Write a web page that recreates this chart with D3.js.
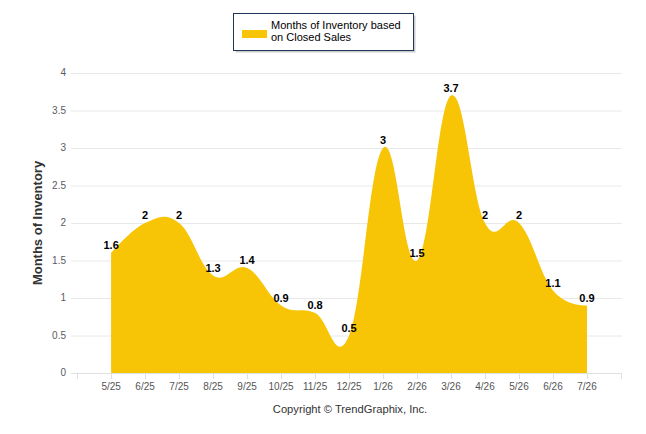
<!DOCTYPE html>
<html>
<head>
<meta charset="utf-8">
<script src="https://cdn.jsdelivr.net/npm/d3@7"></script>
<style>
  body { margin: 0; background: #fff; }
  text { font-family: "Liberation Sans", Arial, sans-serif; }
</style>
</head>
<body>
<div id="chart"></div>
<script>
var months = ["5/25", "6/25", "7/25", "8/25", "9/25", "10/25", "11/25", "12/25",
              "1/26", "2/26", "3/26", "4/26", "5/26", "6/26", "7/26"];
var inventory = [1.6, 2, 2, 1.3, 1.4, 0.9, 0.8, 0.5, 3, 1.5, 3.7, 2, 2, 1.1, 0.9];
var yTicks = [0, 0.5, 1, 1.5, 2, 2.5, 3, 3.5, 4];

var width = 646, height = 434;
var plotLeft = 71, plotRight = 622, plotTop = 73, plotBottom = 373;
var fill = "#F8C406";

var svg = d3.select("#chart")
    .append("svg")
    .attr("width", width)
    .attr("height", height);

// category index -> pixel, plot has some padding either side
var x = d3.scaleLinear().domain([-1.18, 15.03]).range([plotLeft, plotRight]);
var y = d3.scaleLinear().domain([0, 4]).range([plotBottom, plotTop]);

// grid lines
svg.selectAll(".grid")
    .data(yTicks.slice(1))
    .enter().append("line")
    .attr("x1", plotLeft).attr("x2", plotRight)
    .attr("y1", function(d) { return y(d) + 0.5; })
    .attr("y2", function(d) { return y(d) + 0.5; })
    .attr("stroke", "#e8e8e8")
    .attr("stroke-width", 1);

// area (spline like highcharts, smoothing 1.5 == cardinal tension -0.2)
var area = d3.area()
    .x(function(d, i) { return x(i); })
    .y0(y(0))
    .y1(function(d) { return y(d); })
    .curve(d3.curveCardinal.tension(-0.2));

svg.append("path")
    .datum(inventory)
    .attr("d", area)
    .attr("fill", fill);

// x axis
svg.append("line")
    .attr("x1", plotLeft).attr("x2", plotRight)
    .attr("y1", plotBottom + 0.5).attr("y2", plotBottom + 0.5)
    .attr("stroke", "#e0e0e0");

var tickIdx = d3.range(-1, 16);
svg.selectAll(".xtick")
    .data(tickIdx)
    .enter().append("line")
    .attr("x1", function(d) { return Math.round(x(d)) + 0.5; })
    .attr("x2", function(d) { return Math.round(x(d)) + 0.5; })
    .attr("y1", plotBottom).attr("y2", plotBottom + 6)
    .attr("stroke", "#e0e0e0");

svg.selectAll(".xlab")
    .data(months)
    .enter().append("text")
    .attr("x", function(d, i) { return x(i); })
    .attr("y", plotBottom + 17)
    .attr("text-anchor", "middle")
    .attr("font-size", "10px")
    .attr("fill", "#555")
    .text(function(d) { return d; });

// y axis labels
svg.selectAll(".ylab")
    .data(yTicks)
    .enter().append("text")
    .attr("x", 66)
    .attr("y", function(d) { return y(d) + 3; })
    .attr("text-anchor", "end")
    .attr("font-size", "10px")
    .attr("fill", "#5a5a66")
    .text(function(d) { return d; });

svg.append("text")
    .attr("transform", "translate(42," + ((plotTop + plotBottom) / 2) + ") rotate(-90)")
    .attr("text-anchor", "middle")
    .attr("font-size", "13px")
    .attr("font-weight", "bold")
    .attr("fill", "#333")
    .text("Months of Inventory");

// data labels
svg.selectAll(".dlab")
    .data(inventory)
    .enter().append("text")
    .attr("x", function(d, i) { return x(i); })
    .attr("y", function(d) { return y(d) - 4; })
    .attr("text-anchor", "middle")
    .attr("font-size", "11px")
    .attr("font-weight", "bold")
    .attr("fill", "#000")
    .text(function(d) { return d; });

// legend
var legend = svg.append("g");
legend.append("rect")
    .attr("x", 235.5).attr("y", 15.5)
    .attr("width", 180).attr("height", 37)
    .attr("fill", "#999").attr("opacity", 0.5);
legend.append("rect")
    .attr("x", 233.5).attr("y", 13.5)
    .attr("width", 180).attr("height", 37)
    .attr("fill", "#fff")
    .attr("stroke", "#1f3658");
legend.append("rect")
    .attr("x", 242).attr("y", 30)
    .attr("width", 25).attr("height", 8)
    .attr("fill", fill);
var lt = legend.append("text")
    .attr("x", 271).attr("y", 29)
    .attr("font-size", "11px")
    .attr("fill", "#000");
lt.append("tspan").attr("x", 271).text("Months of Inventory based");
lt.append("tspan").attr("x", 271).attr("dy", 12).text("on Closed Sales");

// credits
svg.append("text")
    .attr("x", 350)
    .attr("y", 413)
    .attr("text-anchor", "middle")
    .attr("font-size", "11.2px")
    .attr("fill", "#333")
    .text("Copyright \u00A9 TrendGraphix, Inc.");
</script>
</body>
</html>
